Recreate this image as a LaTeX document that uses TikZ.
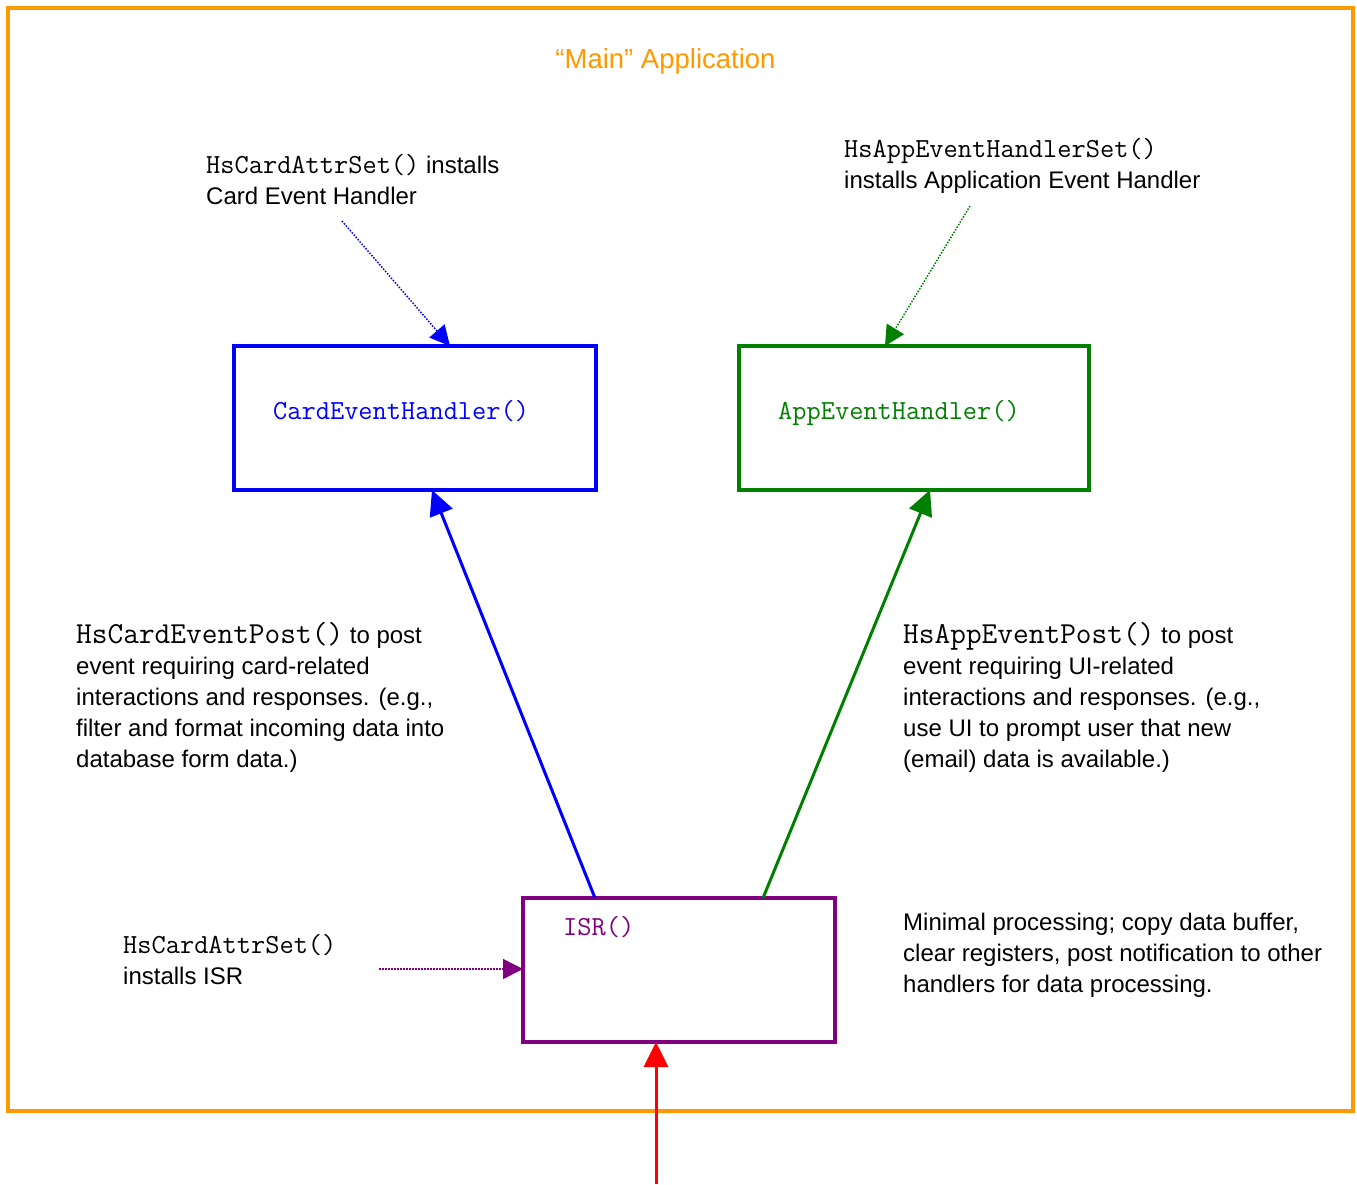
\documentclass[tikz,border=0pt]{standalone}
\usepackage{fontspec}
\setmainfont{Liberation Sans}
\usetikzlibrary{arrows.meta,calc}
\definecolor{frameorange}{RGB}{255,153,0}
\definecolor{cblue}{RGB}{0,0,255}
\definecolor{cgreen}{RGB}{0,128,0}
\definecolor{cpurple}{RGB}{128,0,128}
\definecolor{cred}{RGB}{255,0,0}
\newcommand{\codeA}{\fontsize{27.6}{31}\selectfont\ttfamily}
\newcommand{\codeB}{\fontsize{30.5}{31}\selectfont\ttfamily}
\begin{document}
\begin{tikzpicture}[x=1pt,y=-1pt,
  hbox/.style={draw, line width=3.2pt, anchor=north west, inner sep=0pt, outer sep=0pt},
  txt/.style={anchor=base west, inner sep=0pt, align=left, font=\fontsize{24}{31}\selectfont},
  codetxt/.style={anchor=base west, inner sep=0pt, font=\codeA},
  solidarrow/.style={line width=3pt, -{Triangle[length=25pt,width=24pt]}},
  dotarrow/.style={line width=1.5pt, dash pattern=on 1.5pt off 1.5pt, -{Triangle[length=20pt,width=20pt]}}
]
\useasboundingbox (0,0) rectangle (1357,1184);
\fill[white] (0,0) rectangle (1357,1184);
% frame
\node[hbox, draw=frameorange, minimum width=1345pt, minimum height=1103pt] (frame) at (8,8) {};
\node[anchor=base, inner sep=0pt, text=frameorange, font=\fontsize{27.5}{31}\selectfont] (title) at (665.5,68) {“Main” Application};
% boxes
\node[hbox, draw=cblue, minimum width=362pt, minimum height=144pt] (card) at (234,346) {};
\node[hbox, draw=cgreen, minimum width=350pt, minimum height=144pt] (app) at (739,346) {};
\node[hbox, draw=cpurple, minimum width=312pt, minimum height=144pt] (isr) at (523,898) {};
\node[codetxt, text=cblue] (cardlbl) at (273,419) {CardEventHandler()};
\node[codetxt, text=cgreen] (applbl) at (778,419) {AppEventHandler()};
\node[codetxt, text=cpurple] (isrlbl) at (563,935) {ISR()};
% texts (anchored at the baseline of the last line)
\node[txt] (t1) at (206,204) {{\codeA HsCardAttrSet()} installs\\Card Event Handler};
\node[txt] (t2) at (844,188) {{\codeA HsAppEventHandlerSet()}\\installs Application Event Handler};
\node[txt] (t3) at (76,767) {{\codeB HsCardEventPost()} to post\\event requiring card-related\\interactions and responses. (e.g.,\\filter and format incoming data into\\database form data.)};
\node[txt] (t4) at (903,767) {{\codeB HsAppEventPost()} to post\\event requiring UI-related\\interactions and responses. (e.g.,\\use UI to prompt user that new\\(email) data is available.)};
\node[txt] (t5) at (123,984) {{\codeA HsCardAttrSet()}\\installs ISR};
\node[txt] (t6) at (903,992) {Minimal processing; copy data buffer,\\clear registers, post notification to other\\handlers for data processing.};
% connectors
\coordinate (s1) at (342,221);
\coordinate (s2) at (970,206);
\coordinate (s3) at (379,969);
\coordinate (s4) at (656,1184);
\draw[dotarrow, cblue] (s1) -- ($(card.north west)+(216,0)$);
\draw[dotarrow, cgreen] (s2) -- ($(app.north west)+(146,0)$);
\draw[dotarrow, cpurple] (s3) -- (s3 -| isr.west);
\draw[solidarrow, cblue] ($(isr.north west)+(72,0)$) -- ($(card.south west)+(198,0)$);
\draw[solidarrow, cgreen] ($(isr.north west)+(240,0)$) -- ($(app.south west)+(191,0)$);
\draw[solidarrow, cred] (s4) -- (s4 |- isr.south);
\end{tikzpicture}
\end{document}
